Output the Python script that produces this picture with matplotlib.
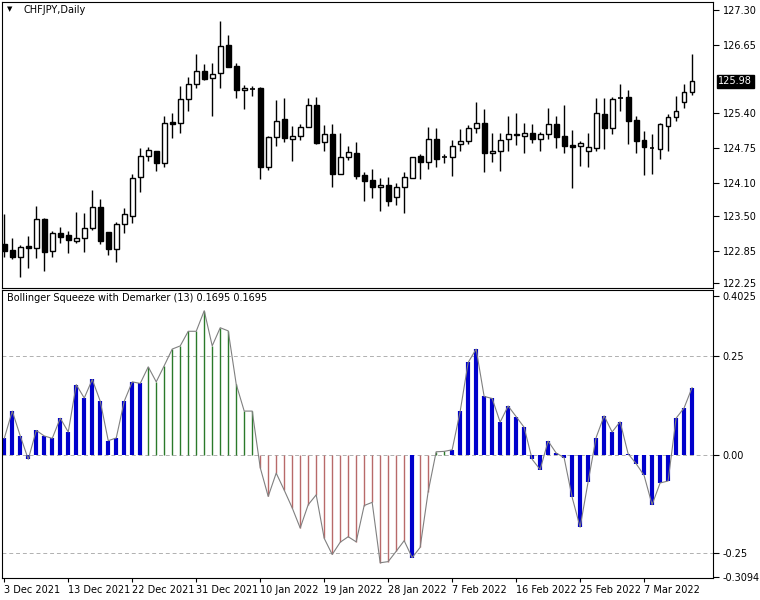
import numpy as np
import matplotlib
matplotlib.use("Agg")
import matplotlib.pyplot as plt

# =====================
# 数据：CHFJPY 日线 (OHLC) 与指标值
# =====================
opens = [122.97, 122.86, 122.73, 122.93, 122.90, 123.43, 122.84, 123.18, 123.14, 123.03,
         123.08, 123.27, 123.66, 123.19, 122.88, 123.34, 123.49, 124.21, 124.60, 124.69,
         124.47, 125.23, 125.21, 125.65, 125.93, 126.17, 126.04, 126.13, 126.65, 126.26,
         125.82, 125.86, 125.86, 124.40, 124.95, 125.28, 124.91, 124.97, 125.14, 125.54,
         124.86, 125.01, 124.27, 124.58, 124.65, 124.25, 124.16, 124.03, 124.06, 123.84,
         124.03, 124.19, 124.60, 124.49, 124.91, 124.58, 124.58, 124.82, 124.88, 125.12,
         125.21, 124.65, 124.69, 124.91, 125.01, 124.97, 125.02, 124.91, 125.01, 125.19,
         124.97, 124.80, 124.78, 124.69, 124.75, 125.38, 125.12, 125.67, 125.69, 125.27,
         124.89, 124.75, 124.73, 125.15, 125.32, 125.60, 125.78]
highs = [123.53, 123.08, 122.95, 123.12, 123.67, 123.45, 123.21, 123.29, 123.21, 123.56,
         123.55, 123.97, 123.80, 123.19, 123.38, 123.64, 124.27, 124.75, 124.77, 124.69,
         125.34, 125.39, 125.89, 126.06, 126.49, 126.30, 126.32, 127.10, 126.84, 126.32,
         125.91, 125.89, 125.88, 124.97, 125.64, 125.67, 125.15, 125.19, 125.67, 125.69,
         125.17, 125.19, 125.02, 124.78, 124.86, 124.30, 124.36, 124.19, 124.21, 124.10,
         124.30, 124.58, 124.64, 125.14, 125.12, 124.64, 124.89, 125.10, 125.17, 125.60,
         125.47, 125.02, 125.02, 125.34, 125.39, 125.21, 125.19, 125.04, 125.49, 125.34,
         125.54, 125.08, 124.88, 125.02, 125.67, 125.67, 125.69, 125.93, 125.82, 125.34,
         125.06, 125.01, 125.21, 125.38, 125.71, 125.93, 126.49]
lows = [122.73, 122.69, 122.36, 122.53, 122.71, 122.47, 122.73, 122.99, 122.81, 122.99,
        122.82, 123.23, 122.97, 122.77, 122.64, 123.18, 123.36, 123.93, 124.51, 124.32,
        124.40, 124.93, 125.02, 125.43, 125.86, 126.00, 125.34, 125.86, 126.25, 125.67,
        125.47, 125.71, 124.17, 124.34, 124.78, 124.86, 124.51, 124.89, 125.14, 124.82,
        124.69, 124.03, 124.27, 124.53, 124.17, 123.77, 123.82, 123.58, 123.67, 123.69,
        123.54, 124.19, 124.17, 124.36, 124.40, 124.47, 124.23, 124.69, 124.82, 125.02,
        124.30, 124.49, 124.32, 124.69, 124.80, 124.65, 124.84, 124.69, 124.91, 124.75,
        124.65, 124.01, 124.41, 124.40, 124.69, 124.73, 125.01, 125.43, 124.82, 124.65,
        124.25, 124.27, 124.54, 124.69, 125.25, 125.49, 125.73]
closes = [122.84, 122.73, 122.92, 122.90, 123.43, 122.82, 123.18, 123.10, 123.05, 123.08,
          123.27, 123.66, 123.03, 122.88, 123.34, 123.53, 124.19, 124.60, 124.71, 124.47,
          125.21, 125.19, 125.65, 125.93, 126.17, 126.02, 126.12, 126.63, 126.25, 125.82,
          125.86, 125.84, 124.40, 124.95, 125.25, 124.93, 124.97, 125.14, 125.54, 124.84,
          125.01, 124.27, 124.58, 124.67, 124.23, 124.14, 124.03, 124.06, 123.77, 124.03,
          124.21, 124.58, 124.49, 124.91, 124.54, 124.58, 124.78, 124.88, 125.12, 125.21,
          124.65, 124.69, 124.90, 125.01, 124.99, 125.02, 124.91, 125.01, 125.19, 124.95,
          124.78, 124.77, 124.84, 124.77, 125.39, 125.12, 125.65, 125.67, 125.25, 124.88,
          124.77, 124.75, 125.19, 125.32, 125.43, 125.78, 125.98]

squeeze = [0.041, 0.110, 0.047, -0.012, 0.061, 0.047, 0.041, 0.092, 0.057, 0.177,
           0.143, 0.190, 0.135, 0.035, 0.042, 0.135, 0.184, 0.180, 0.222, 0.184,
           0.225, 0.267, 0.275, 0.312, 0.312, 0.364, 0.275, 0.321, 0.313, 0.178,
           0.110, 0.110, -0.033, -0.106, -0.047, -0.090, -0.135, -0.186, -0.127, -0.102,
           -0.212, -0.253, -0.222, -0.208, -0.221, -0.129, -0.121, -0.274, -0.271, -0.245,
           -0.218, -0.261, -0.235, -0.094, 0.007, 0.008, 0.012, 0.109, 0.233, 0.267,
           0.147, 0.142, 0.082, 0.123, 0.096, 0.069, -0.012, -0.038, 0.034, 0.004,
           -0.008, -0.108, -0.184, -0.069, 0.043, 0.098, 0.057, 0.083, 0.002, -0.023,
           -0.053, -0.127, -0.072, -0.067, 0.092, 0.118, 0.1695]
state = list("b" * 18 + "g" * 14 + "r" * 16 + "rrrbrr" + "gg" + "b" * 31)

date_labels = ["3 Dec 2021", "13 Dec 2021", "22 Dec 2021", "31 Dec 2021", "10 Jan 2022",
               "19 Jan 2022", "28 Jan 2022", "7 Feb 2022", "16 Feb 2022", "25 Feb 2022",
               "7 Mar 2022"]
price_ticks = [127.30, 126.65, 125.40, 124.75, 124.10, 123.50, 122.85, 122.25]
ind_ticks = [0.4025, 0.25, 0.0, -0.25, -0.3094]

plt.rcParams["font.family"] = "DejaVu Sans"
plt.rcParams["font.size"] = 7

fig = plt.figure(figsize=(7.6, 6), dpi=100)
ax = fig.add_axes([0.003, 0.52, 0.935, 0.477])
ax2 = fig.add_axes([0.003, 0.037, 0.935, 0.48])

x = np.arange(len(opens))
xlim = (-0.25, 88.6)

# =====================
# 蜡烛图
# =====================
for i in x:
    o, h, l, c = opens[i], highs[i], lows[i], closes[i]
    ax.vlines(i, l, h, color="black", linewidth=1)
    lo, hi = min(o, c), max(o, c)
    if hi - lo < 0.02:
        ax.hlines(c, i - 0.3, i + 0.3, color="black", linewidth=1.2)
    else:
        face = "white" if c >= o else "black"
        ax.bar(i, hi - lo, bottom=lo, width=0.6, facecolor=face, edgecolor="black",
               linewidth=1, zorder=3)

ax.set_xlim(*xlim)
ax.set_ylim(122.16, 127.45)
ax.yaxis.tick_right()
ax.set_yticks(price_ticks)
ax.set_yticklabels([f"{t:.2f}" for t in price_ticks])
ax.set_xticks([])
ax.tick_params(axis="y", length=4, pad=3)
ax.text(0.006, 0.985, "\u25bc", transform=ax.transAxes, va="top", fontsize=5)
ax.text(0.03, 0.99, "CHFJPY,Daily", transform=ax.transAxes, va="top")
ax.annotate(f"{closes[-1]:.2f}", xy=(1, closes[-1]), xycoords=("axes fraction", "data"),
            xytext=(4, 0), textcoords="offset points", va="center", ha="left",
            color="white", bbox=dict(boxstyle="square,pad=0.15", fc="black", ec="black"))

# =====================
# 指标
# =====================
colors = {"b": "#0000cc", "g": "#2a7a2a", "r": "#b86a6a"}
for i in x:
    v, s = squeeze[i], state[i]
    lw = 3 if s == "b" else 1
    ax2.vlines(i, 0, v, color=colors[s], linewidth=lw, zorder=2)
ax2.plot(x, squeeze, color="#808080", linewidth=0.8, zorder=3)
for lvl in (0.25, 0.0, -0.25):
    ax2.axhline(lvl, color="#b0b0b0", linestyle=(0, (4, 3)), linewidth=0.7, zorder=1)

ax2.set_xlim(*xlim)
ax2.set_ylim(-0.312, 0.417)
ax2.yaxis.tick_right()
ax2.set_yticks(ind_ticks)
ax2.set_yticklabels(["0.4025", "0.25", "0.00", "-0.25", "-0.3094"])
ax2.set_xticks(np.arange(len(date_labels)) * 8)
ax2.set_xticklabels(date_labels, ha="left")
ax2.tick_params(axis="x", length=3, pad=2)
ax2.tick_params(axis="y", length=4, pad=3)
ax2.text(0.006, 0.99, f"Bollinger Squeeze with Demarker (13) {squeeze[-1]:.4f} {squeeze[-1]:.4f}",
         transform=ax2.transAxes, va="top")

fig.savefig("out.png", dpi=100)
